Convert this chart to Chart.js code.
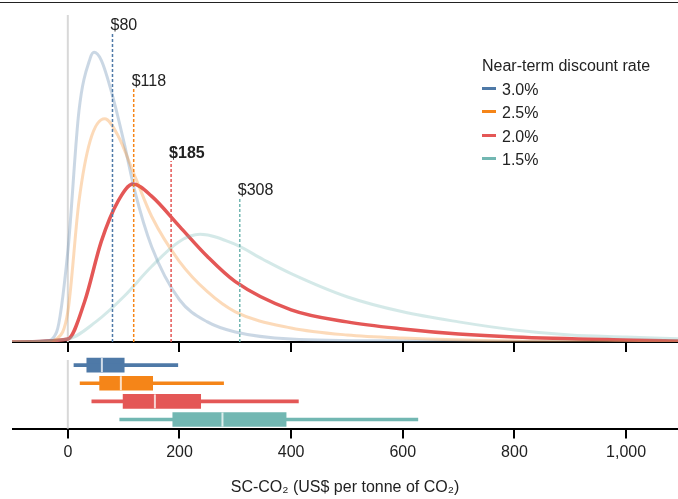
<!DOCTYPE html>
<html><head><meta charset="utf-8">
<script src="https://cdn.jsdelivr.net/npm/chart.js@4"></script>
<style>
body{margin:0;width:678px;height:499px;position:relative;overflow:hidden;background:#fff;font-family:"Liberation Sans",Arial,sans-serif}
#c1{position:absolute;left:12px;top:0;width:666px;height:352px}
#c2{position:absolute;left:12px;top:340px;width:666px;height:159px}
#rule{position:absolute;left:0;top:2px;width:678px;border-top:1px solid #222}
#leg{position:absolute;left:482px;top:54px;font-size:16px;color:#222;line-height:23.5px}
#leg span{display:inline-block;width:14px;height:3px;margin:0 6px 4px 0;vertical-align:middle}
</style></head><body>
<div id="rule"></div>
<canvas id="c1" width="666" height="352"></canvas>
<canvas id="c2" width="666" height="159"></canvas>
<div id="leg">Near-term discount rate<br>
<span style="background:#4e79a7"></span>3.0%<br>
<span style="background:#f58518"></span>2.5%<br>
<span style="background:#e45756"></span>2.0%<br>
<span style="background:#72b7b2"></span>1.5%</div>
<script>
// densities (arbitrary units) sampled from the figure
const blueX = [-100,-40,-20,0,20,40,47,60,80,100,120,150,200,250,300,400,600,1100];
const blueY = [0,1,10,90,230,282,288,280,245,200,150,95,42,20,10,3,1,0];
const orangeX = [-100,-40,-20,0,20,40,66,90,120,150,200,250,300,400,500,600,800,1100];
const orangeY = [0,0,3,30,140,200,222,205,165,125,80,50,30,14,7,4,1,0];
const redX = [-100,0,30,60,90,117,150,200,250,300,400,500,600,700,800,1000,1100];
const redY = [0,3,40,100,140,157,145,115,85,60,32,20,13,8,5,2,1];
const tealX = [-100,0,50,100,150,200,237,300,350,400,500,600,700,800,900,1000,1100];
const tealY = [0,3,20,45,75,100,107,97,82,68,45,30,20,12,7,5,3];

const rates = ['3.0%','2.5%','2.0%','1.5%'];
const colors = ['#4e79a7','#f58518','#e45756','#72b7b2'];
const means = [80,118,185,308];
const meanLabels = ['$80','$118','$185','$308'];
const meanTops = [308,252,180,144];
// box plots: whisker low, q1, median, q3, whisker high
const wLow = [11,22,43,93];
const q1 = [34,57,99,188];
const med = [61,95,156,277];
const q3 = [101,152,238,391];
const wHigh = [197,279,413,627];

const XMIN = -100, XMAX = 1093;
const pts = (xs, ys) => xs.map((x, i) => ({x: x, y: ys[i]}));

const meanPlugin = {
  id: 'means',
  beforeDatasetsDraw(chart) {
    const {ctx, scales: {x, y}} = chart;
    ctx.save();
    ctx.strokeStyle = '#d8d8d8'; ctx.lineWidth = 2;
    ctx.beginPath(); ctx.moveTo(x.getPixelForValue(0), y.getPixelForValue(0)); ctx.lineTo(x.getPixelForValue(0), y.getPixelForValue(325)); ctx.stroke();
    ctx.restore();
  },
  afterDatasetsDraw(chart) {
    const {ctx, scales: {x, y}} = chart;
    ctx.save();
    means.forEach((m, i) => {
      const px = x.getPixelForValue(m);
      ctx.strokeStyle = colors[i]; ctx.lineWidth = 1.5; ctx.setLineDash([3, 2]);
      ctx.beginPath(); ctx.moveTo(px, y.getPixelForValue(0)); ctx.lineTo(px, y.getPixelForValue(meanTops[i])); ctx.stroke();
      ctx.setLineDash([]);
      ctx.fillStyle = '#222';
      ctx.font = (i === 2 ? 'bold ' : '') + '16px "Liberation Sans", Arial';
      ctx.textBaseline = 'bottom';
      ctx.fillText(meanLabels[i], px - 2, y.getPixelForValue(meanTops[i]) + 1);
    });
    ctx.restore();
  }
};

new Chart(document.getElementById('c1'), {
  type: 'scatter',
  data: {
    datasets: [
      {data: pts(tealX, tealY), borderColor: 'rgba(114,183,178,0.3)', borderWidth: 3},
      {data: pts(orangeX, orangeY), borderColor: 'rgba(245,133,24,0.3)', borderWidth: 3},
      {data: pts(blueX, blueY), borderColor: 'rgba(78,121,167,0.3)', borderWidth: 3},
      {data: pts(redX, redY), borderColor: '#e45756', borderWidth: 3.5}
    ].map(d => Object.assign(d, {showLine: true, pointRadius: 0, tension: 0.4, cubicInterpolationMode: 'monotone'}))
  },
  options: {
    responsive: false, animation: false,
    layout: {padding: 0},
    plugins: {legend: {display: false}, tooltip: {enabled: false}},
    scales: {
      x: {type: 'linear', min: XMIN, max: XMAX, afterBuildTicks: s => { s.ticks = [0,200,400,600,800,1000].map(v => ({value: v})); },
          grid: {drawOnChartArea: false, tickLength: 10, color: '#000', lineWidth: 2},
          border: {color: '#000', width: 2}, ticks: {display: false}},
      y: {display: false, min: 0, max: 340}
    }
  },
  plugins: [meanPlugin]
});

const boxPlugin = {
  id: 'boxes',
  beforeDatasetsDraw(chart) {
    const {ctx, scales: {x}, chartArea} = chart;
    ctx.save();
    ctx.strokeStyle = '#d8d8d8'; ctx.lineWidth = 2;
    ctx.beginPath(); ctx.moveTo(x.getPixelForValue(0), chartArea.top + 4); ctx.lineTo(x.getPixelForValue(0), chartArea.bottom); ctx.stroke();
    ctx.restore();
  },
  afterDatasetsDraw(chart) {
    const {ctx, scales: {x, y}} = chart;
    ctx.save();
    ctx.strokeStyle = 'rgba(255,255,255,0.75)'; ctx.lineWidth = 2;
    med.forEach((m, i) => {
      const py = y.getPixelForValue(i), px = x.getPixelForValue(m);
      ctx.beginPath(); ctx.moveTo(px, py - 7); ctx.lineTo(px, py + 7); ctx.stroke();
    });
    ctx.restore();
  }
};

new Chart(document.getElementById('c2'), {
  type: 'bar',
  data: {
    labels: rates,
    datasets: [
      {data: wLow.map((v, i) => [v, wHigh[i]]), backgroundColor: colors, barThickness: 3, grouped: false},
      {data: q1.map((v, i) => [v, q3[i]]), backgroundColor: colors, barThickness: 14, grouped: false}
    ]
  },
  options: {
    indexAxis: 'y', responsive: false, animation: false,
    layout: {padding: {top: 16, left: 0, right: 0, bottom: 2}},
    plugins: {legend: {display: false}, tooltip: {enabled: false}},
    scales: {
      x: {type: 'linear', min: XMIN, max: XMAX, afterBuildTicks: s => { s.ticks = [0,200,400,600,800,1000].map(v => ({value: v})); },
          grid: {drawOnChartArea: false, tickLength: 10, color: '#000', lineWidth: 2},
          border: {color: '#000', width: 2},
          ticks: {color: '#222', font: {size: 16, family: '"Liberation Sans", Arial'}, padding: 4,
                  callback: v => v.toLocaleString('en-US')},
          title: {display: true, text: 'SC-CO₂ (US$ per tonne of CO₂)', color: '#222', font: {size: 16, family: '"Liberation Sans", Arial'}, padding: {top: 12, bottom: 0}}},
      y: {display: false}
    }
  },
  plugins: [boxPlugin]
});
</script></body></html>
